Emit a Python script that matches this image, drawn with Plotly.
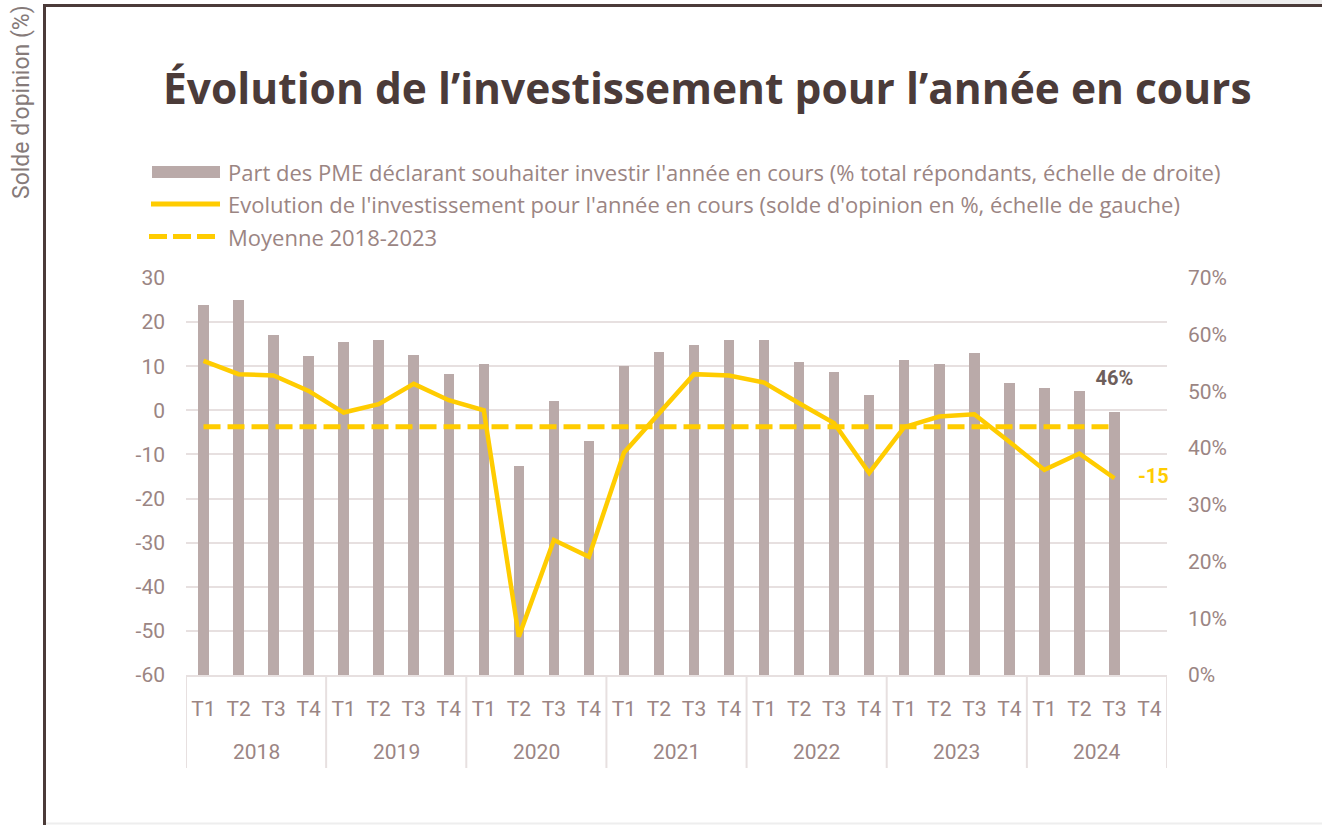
import plotly.graph_objects as go

# ---------------- data ----------------
years = ["2018"] * 4 + ["2019"] * 4 + ["2020"] * 4 + ["2021"] * 4 + ["2022"] * 4 + ["2023"] * 4 + ["2024"] * 4
quarters = ["T1", "T2", "T3", "T4"] * 7
year_groups = ["2018", "2019", "2020", "2021", "2022", "2023", "2024"]

# Part des PME déclarant souhaiter investir (right axis, share)
part_pme = [0.652, 0.661, 0.600, 0.563,
            0.587, 0.591, 0.565, 0.531,
            0.548, 0.369, 0.483, 0.412,
            0.545, 0.570, 0.582, 0.590,
            0.590, 0.552, 0.534, 0.494,
            0.555, 0.548, 0.568, 0.515,
            0.506, 0.501, 0.464, None]

# Solde d'opinion (left axis)
solde = [11.2, 8.2, 7.9, 4.4,
         -0.5, 1.4, 6.0, 2.3,
         0.0, -51.3, -29.4, -33.2,
         -9.6, -0.7, 8.2, 7.9,
         6.3, 1.6, -2.9, -14.2,
         -3.8, -1.4, -0.9, -7.1,
         -13.5, -9.8, -15.4, None]

moyenne = -3.7  # Moyenne 2018-2023

left_ticks = [30, 20, 10, 0, -10, -20, -30, -40, -50, -60]
right_ticks = [0.7, 0.6, 0.5, 0.4, 0.3, 0.2, 0.1, 0.0]

legend_labels = [
    "Part des PME déclarant souhaiter investir l'année en cours (% total répondants, échelle de droite)",
    "Evolution de l'investissement pour l'année en cours (solde d'opinion en %, échelle de gauche)",
    "Moyenne 2018-2023",
]
title_text = "Évolution de l’investissement pour l’année en cours"
left_title = "Solde d'opinion (%)"

# ---------------- styling ----------------
W, H = 1322, 825
ML, MR, MT, MB = 186, 155, 278, 150
PW, PH = W - ML - MR, H - MT - MB
FONT = "Roboto"
WIDE = "Open Sans"
BAR = "#baaaa9"
YEL = "#FFCC00"
TXT = "#9b8583"
DARK = "#4b3b39"
GRID = "#e7e0e0"

cats = [f"{q} {y}" for y, q in zip(years, quarters)]


def X(px):
    return (px - ML) / PW


def Y(py):
    return (H - MB - py) / PH


fig = go.Figure()

fig.add_trace(go.Bar(
    x=cats, y=part_pme, yaxis="y",
    marker=dict(color=BAR, line=dict(width=0)), width=0.3,
    showlegend=False, hoverinfo="skip",
))

# last bar label
last_i = max(i for i, v in enumerate(part_pme) if v is not None)
fig.add_trace(go.Scatter(
    x=[cats[last_i]], y=[part_pme[last_i]], yaxis="y",
    mode="markers+text", marker=dict(size=34, color="rgba(0,0,0,0)"),
    text=[f"{round(part_pme[last_i] * 100)}%"], textposition="top center",
    textfont=dict(family=FONT, size=20, color="#6e5e5b", weight="bold"),
    cliponaxis=False, showlegend=False, hoverinfo="skip",
))

n_avg = len([v for v in solde if v is not None])
fig.add_trace(go.Scatter(
    x=cats[:n_avg], y=[moyenne] * n_avg, yaxis="y2",
    mode="lines", line=dict(color=YEL, width=5, dash="17px,7px"),
    showlegend=False, hoverinfo="skip",
))

fig.add_trace(go.Scatter(
    x=cats, y=solde, yaxis="y2",
    mode="lines", line=dict(color=YEL, width=4.5),
    showlegend=False, hoverinfo="skip",
))

last_j = max(i for i, v in enumerate(solde) if v is not None)
fig.add_trace(go.Scatter(
    x=[cats[last_j]], y=[solde[last_j]], yaxis="y2",
    mode="markers+text", marker=dict(size=36, color="rgba(0,0,0,0)"),
    text=[f"{round(solde[last_j])}"], textposition="middle right",
    textfont=dict(family=FONT, size=20, color=YEL, weight="bold"),
    cliponaxis=False, showlegend=False, hoverinfo="skip",
))

shapes = [
    # outer frame
    dict(type="rect", xref="paper", yref="paper", x0=X(1220), x1=X(1330), y0=Y(4), y1=Y(-5),
         fillcolor="#eeeeee", line=dict(width=0), layer="below"),
    dict(type="line", xref="paper", yref="paper", x0=X(46), x1=X(1330), y0=Y(823.5), y1=Y(823.5),
         line=dict(color="#eeeeee", width=2)),
    dict(type="line", xref="paper", yref="paper", x0=X(44.5), x1=X(1330), y0=Y(5.5), y1=Y(5.5),
         line=dict(color=DARK, width=3)),
    dict(type="line", xref="paper", yref="paper", x0=X(44.5), x1=X(44.5), y0=Y(4), y1=Y(830),
         line=dict(color=DARK, width=3)),
    # legend symbols
    dict(type="rect", xref="paper", yref="paper", x0=X(152), x1=X(220), y0=Y(178), y1=Y(166),
         fillcolor=BAR, line=dict(width=0)),
    dict(type="line", xref="paper", yref="paper", x0=X(151), x1=X(220), y0=Y(204), y1=Y(204),
         line=dict(color=YEL, width=5)),
    dict(type="line", xref="paper", yref="paper", x0=X(149), x1=X(216), y0=Y(236.5), y1=Y(236.5),
         line=dict(color=YEL, width=5, dash="18px,6px")),
]
# year-group dividers under the category axis
for k in range(len(year_groups) + 1):
    shapes.append(dict(type="line", xref="x", yref="paper", x0=k * 4 - 0.5, x1=k * 4 - 0.5,
                       y0=0, y1=Y(768), line=dict(color=GRID, width=2)))

annotations = [
    dict(text=f"<b>{title_text}</b>", xref="paper", yref="paper", x=X(707), y=Y(88),
         xanchor="center", yanchor="middle", showarrow=False,
         font=dict(family=WIDE, size=42.5, color=DARK)),
    dict(text=left_title, xref="paper", yref="paper", x=X(21), y=Y(102), textangle=-90,
         xanchor="center", yanchor="middle", showarrow=False,
         font=dict(family=FONT, size=23, color="#857a79")),
]
for lbl, py in zip(legend_labels, [172, 204, 237]):
    annotations.append(dict(text=lbl, xref="paper", yref="paper", x=X(226), y=Y(py),
                            xanchor="left", yanchor="middle", showarrow=False,
                            font=dict(family=WIDE, size=22, color=TXT)))
for k, yr in enumerate(year_groups):
    annotations.append(dict(text=yr, xref="x", yref="paper", x=k * 4 + 1.5, y=Y(752),
                            xanchor="center", yanchor="middle", showarrow=False,
                            font=dict(family=FONT, size=21, color=TXT)))

fig.update_layout(
    width=W, height=H,
    margin=dict(l=ML, r=MR, t=MT, b=MB, autoexpand=False),
    paper_bgcolor="white", plot_bgcolor="white",
    font=dict(family=FONT, color=TXT),
    showlegend=False,
    bargap=0,
    xaxis=dict(
        type="category", range=[-0.5, 27.5], categoryorder="array", categoryarray=cats,
        tickvals=cats, ticktext=quarters,
        showline=True, linecolor=GRID, linewidth=2,
        showgrid=False, ticks="", tickfont=dict(family=FONT, size=21, color=TXT),
        ticklabelstandoff=14, automargin=False, fixedrange=True,
    ),
    yaxis=dict(
        side="right", range=[0, 0.7], tickvals=right_ticks, tickformat=".0%",
        showgrid=False, zeroline=False, showline=False,
        tickfont=dict(family=FONT, size=21, color=TXT), ticklabelstandoff=20,
        automargin=False,
    ),
    yaxis2=dict(
        side="left", overlaying="y", range=[-60, 30],
        tickvals=left_ticks, ticktext=[str(v) for v in left_ticks],
        showgrid=True, gridcolor=GRID, gridwidth=2, zeroline=False, showline=False,
        tickfont=dict(family=FONT, size=21, color=TXT), ticklabelstandoff=20,
        automargin=False,
    ),
    shapes=shapes,
    annotations=annotations,
)

fig.write_html("out.html", config={"displayModeBar": False},
               post_script="document.body.style.margin='0';document.body.style.overflow='hidden';")
